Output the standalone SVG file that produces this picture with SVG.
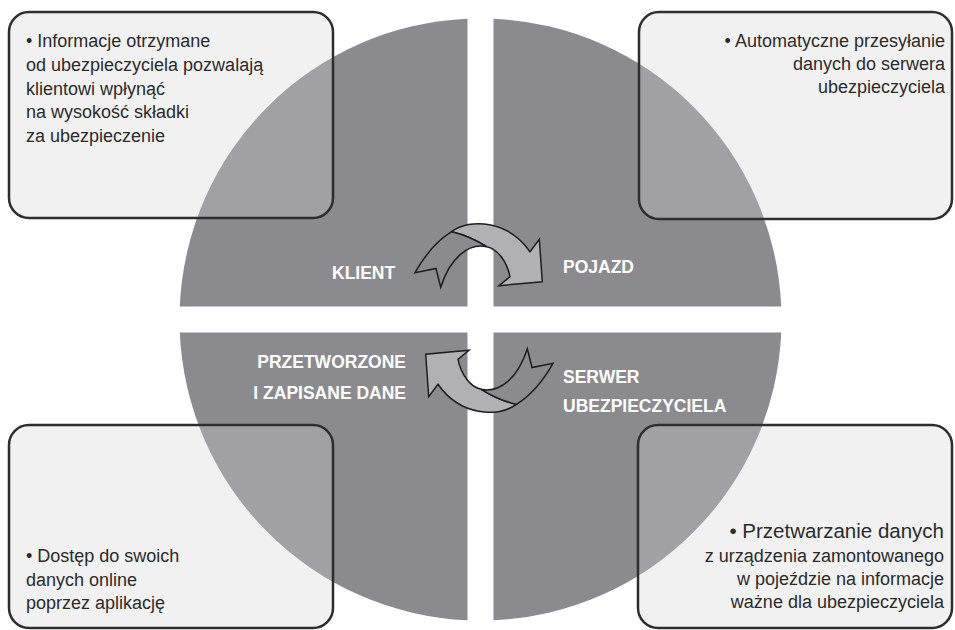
<svg xmlns="http://www.w3.org/2000/svg" width="955" height="630" viewBox="0 0 955 630">
<style>
.q{fill:#8b8b8f}
.ql{font-family:"Liberation Sans",Arial,sans-serif;font-weight:bold;font-size:17.5px;fill:#ffffff}
.box{fill:rgb(210,210,212);fill-opacity:0.31;stroke:#2e2e2e;stroke-width:2.5}
.t{font-family:"Liberation Sans",Arial,sans-serif;font-size:18px;fill:#2b2b2b}
.r{text-anchor:end}
.tail{fill:#8b8b8f;stroke:#1e1e1e;stroke-width:1.5;stroke-linejoin:miter}
.head{fill:#b1b1b4;stroke:#1e1e1e;stroke-width:1.5;stroke-linejoin:miter}
</style>
<defs>
<g id="arrow">
<path class="head" d="M451.7,231.7 C470,218 508,220 530,251.7 L539.3,239.3 L542.3,281.7 L499,285.7 L510,276.7 C507,262 498,249 486.7,246.7 Q470,236 451.7,231.7 Z"/>
<path class="tail" d="M415,272.7 C425,255 438,240 451.7,231.7 Q470,236 486.7,246.7 C468,243 450,258 440.7,287.3 L436,268.5 Z"/>
</g>
</defs>
<g id="quadrant-klient">
<path class="q" d="M467.5,306.5 L467.5,18.78 A301,301 0 0 0 179.78,306.5 Z"/>
<text class="ql" x="332" y="279">KLIENT</text>
</g>
<g id="quadrant-pojazd">
<path class="q" d="M493.5,306.5 L781.22,306.5 A301,301 0 0 0 493.5,18.78 Z"/>
<text class="ql" x="563" y="273">POJAZD</text>
</g>
<g id="quadrant-serwer">
<path class="q" d="M493.5,332.5 L493.5,620.22 A301,301 0 0 0 781.22,332.5 Z"/>
<text class="ql" x="563" y="383">SERWER</text>
<text class="ql" x="563" y="412">UBEZPIECZYCIELA</text>
</g>
<g id="quadrant-dane">
<path class="q" d="M467.5,332.5 L179.78,332.5 A301,301 0 0 0 467.5,620.22 Z"/>
<text class="ql r" x="406" y="368">PRZETWORZONE</text>
<text class="ql r" x="406" y="399">I ZAPISANE DANE</text>
</g>
<g id="connectors">
<use href="#arrow"/>
<use href="#arrow" transform="rotate(180 484 318)"/>
</g>
<g id="box-klient">
<rect class="box" x="9" y="12" width="324" height="206" rx="20"/>
<text class="t" x="26" y="47">• Informacje otrzymane</text>
<text class="t" x="26" y="71">od ubezpieczyciela pozwalają</text>
<text class="t" x="26" y="94.5">klientowi wpłynąć</text>
<text class="t" x="26" y="118">na wysokość składki</text>
<text class="t" x="26" y="142">za ubezpieczenie</text>
</g>
<g id="box-pojazd">
<rect class="box" x="639" y="12" width="313" height="207" rx="20"/>
<text class="t r" x="945" y="47">• Automatyczne przesyłanie</text>
<text class="t r" x="945" y="70">danych do serwera</text>
<text class="t r" x="945" y="93">ubezpieczyciela</text>
</g>
<g id="box-dane">
<rect class="box" x="9" y="425" width="324" height="203" rx="20"/>
<text class="t" x="26" y="562">• Dostęp do swoich</text>
<text class="t" x="26" y="586">danych online</text>
<text class="t" x="26" y="609">poprzez aplikację</text>
</g>
<g id="box-serwer">
<rect class="box" x="638" y="425" width="314" height="203" rx="20"/>
<text class="t r" x="944" y="538" style="font-size:20.5px">• Przetwarzanie danych</text>
<text class="t r" x="944" y="562">z urządzenia zamontowanego</text>
<text class="t r" x="944" y="585">w pojeździe na informacje</text>
<text class="t r" x="944" y="608">ważne dla ubezpieczyciela</text>
</g>
</svg>
